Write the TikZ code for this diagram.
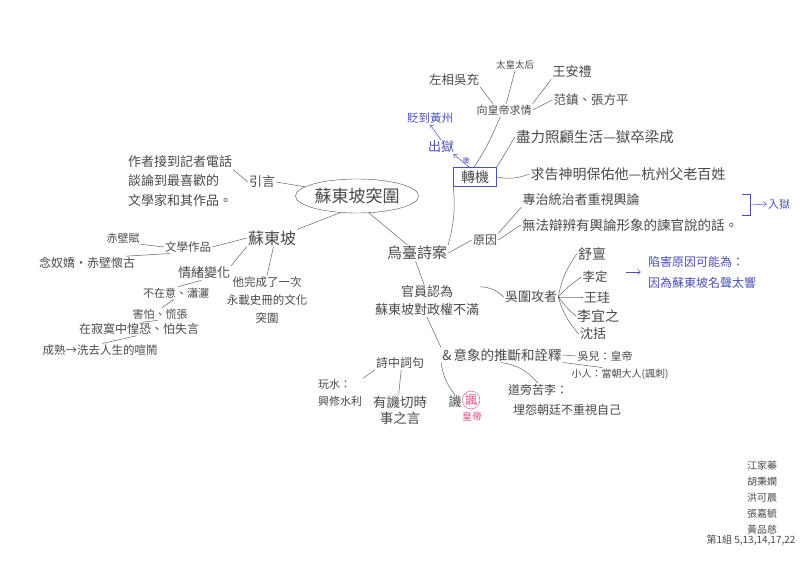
\documentclass[tikz,border=0pt]{standalone}
\usepackage{fontspec}
\setmainfont{Noto Sans CJK TC}
\usetikzlibrary{shapes.geometric,arrows.meta}
\definecolor{pencil}{HTML}{4A4A4A}
\definecolor{ink}{HTML}{4B50B4}
\definecolor{rose}{HTML}{E0457F}
\newcommand{\fsz}[2]{\fontsize{#1}{#2}\selectfont}
\begin{document}
\begin{tikzpicture}[x=1pt,y=-1pt,
	lbl/.style={text=pencil,inner sep=1pt,font=\fsz{12}{14}},
	bluelbl/.style={lbl,text=ink},
	pen/.style={draw=pencil!85,line width=0.5pt},
	bluepen/.style={draw=ink,line width=0.5pt,-{Straight Barb[length=3pt,width=5pt]}}]
	\fill[white] (0,0) rectangle (800,565);
	\useasboundingbox (0,0) rectangle (800,565);
	%centre
	\node[lbl,draw=pencil,ellipse,minimum width=110,minimum height=34,font=\fsz{17}{20}] (title) at (357,196) {蘇東坡突圍};
	\node[lbl,align=left,font=\fsz{13}{19.5}] (intro) at (180,181) {作者接到記者電話\\談論到最喜歡的\\文學家和其作品。};
	\node[lbl,font=\fsz{13}{15}] (yinyan) at (262,182) {引言};
	%su dongpo
	\node[lbl,font=\fsz{16}{18}] (su) at (272,238) {蘇東坡};
	\node[lbl,font=\fsz{11.5}{14}] (wenxue) at (188,247) {文學作品};
	\node[lbl,font=\fsz{11}{13}] (chibi) at (123,238) {赤壁賦};
	\node[lbl,font=\fsz{12}{14}] (niannu) at (87,263) {念奴嬌·赤壁懷古};
	\node[lbl,font=\fsz{13}{15}] (qingxu) at (204,273) {情緒變化};
	\node[lbl,align=center,font=\fsz{11.5}{18}] (wancheng) at (267,300) {他完成了一次\\永載史冊的文化\\突圍};
	\node[lbl,font=\fsz{11}{13}] (buzai) at (176,293) {不在意、瀟灑};
	\node[lbl,font=\fsz{11}{13}] (haipa) at (160,314) {害怕、慌張};
	\node[lbl,font=\fsz{12}{14}] (jimo) at (139,329) {在寂寞中惶恐、怕失言};
	\node[lbl,font=\fsz{11.5}{14}] (chengshu) at (100,350) {成熟→洗去人生的喧鬧};
	%wutai shi an
	\node[lbl,font=\fsz{15}{17}] (wutai) at (417,253) {烏臺詩案};
	\node[lbl,draw=ink,minimum width=43,minimum height=19,inner sep=2pt,font=\fsz{14}{16}] (zhuanji) at (475,177) {轉機};
	\node[bluelbl,font=\fsz{13}{15}] (chuyu) at (441,147) {出獄};
	\node[bluelbl,font=\fsz{11.5}{13}] (biandao) at (430,118) {貶到黃州};
	\node[lbl,font=\fsz{11}{13}] (qiuqing) at (504,110) {向皇帝求情};
	\node[lbl,font=\fsz{12.5}{15}] (wuchong) at (454,80) {左相吳充};
	\node[lbl,font=\fsz{9.5}{12}] (taihuang) at (515,65) {太皇太后};
	\node[lbl,font=\fsz{13}{15}] (wanganli) at (572,72) {王安禮};
	\node[lbl,font=\fsz{12.5}{15}] (fanzhen) at (591,100) {范鎮、張方平};
	\node[lbl,font=\fsz{14.5}{16}] (liangcheng) at (595,137) {盡力照顧生活—獄卒梁成};
	\node[lbl,font=\fsz{14}{16}] (hangzhou) at (628,174) {求告神明保佑他—杭州父老百姓};
	\node[lbl,font=\fsz{13}{15}] (zhuanzhi) at (581,200) {專治統治者重視輿論};
	\node[lbl,font=\fsz{13.5}{16}] (wufa) at (630,225) {無法辯辨有輿論形象的諫官說的話。};
	\node[lbl,font=\fsz{12}{14}] (yuanyin) at (485,240) {原因};
	\node[bluelbl,font=\fsz{11}{13}] (ruyu) at (779,204) {入獄};
	\node[lbl,align=center,font=\fsz{13}{18}] (guanyuan) at (427,301) {官員認為\\蘇東坡對政權不滿};
	\node[lbl,font=\fsz{13}{15}] (weigong) at (531,297) {吳圍攻者};
	\node[lbl,font=\fsz{14}{16}] (shudan) at (592,254) {舒亶};
	\node[lbl,font=\fsz{12.5}{15}] (liding) at (595,277) {李定};
	\node[lbl,font=\fsz{13}{15}] (wanggui) at (597,297) {王珪};
	\node[lbl,font=\fsz{14}{16}] (liyi) at (598,316) {李宜之};
	\node[lbl,font=\fsz{13}{15}] (shenkuo) at (593,334) {沈括};
	\node[bluelbl,align=left,font=\fsz{12}{21}] (xianhai) at (702,272) {陷害原因可能為：\\因為蘇東坡名聲太響};
	\node[lbl,font=\fsz{13.5}{16}] (yixiang) at (502,355) {\&\,意象的推斷和詮釋};
	\node[lbl,font=\fsz{11}{13}] (wuer) at (605,356) {吳兒：皇帝};
	\node[lbl,font=\fsz{10}{12}] (xiaoren) at (620,374) {小人：當朝大人(諷刺)};
	\node[lbl,font=\fsz{12}{14}] (shici) at (400,363) {詩中詞句};
	\node[lbl,align=left,font=\fsz{11}{17}] (wanshui) at (340,393) {玩水：\\興修水利};
	\node[lbl,align=center,font=\fsz{13.5}{16}] (jiqie) at (400,410) {有譏切時\\事之言};
	\node[lbl,font=\fsz{13}{15}] (ji) at (455,402) {譏};
	\node[lbl,text=rose,draw=rose,circle,inner sep=0.5pt,font=\fsz{12}{14}] (feng) at (471,400) {諷};
	\node[lbl,text=rose,font=\fsz{10}{12}] (huangdi) at (472,417) {皇帝};
	\node[lbl,font=\fsz{12}{14}] (daopang) at (538,390) {道旁苦李：};
	\node[lbl,font=\fsz{12}{14}] (maiyuan) at (567,410) {埋怨朝廷不重視自己};
	%signature
	\node[lbl,align=center,font=\fsz{10}{16}] (names) at (762,498) {江家蓁\\胡秉嫻\\洪可晨\\張嘉毓\\黃品慈};
	\node[lbl,font=\fsz{10}{12}] (group) at (751,540) {第1組 5,13,14,17,22};
	%lines left
	\draw[pen] (intro.12) -- (yinyan.west);
	\draw[pen] (yinyan.east) -- (title.170);
	\draw[pen] (title.225) -- (su.north east);
	\draw[pen] (su.west) -- (wenxue.east);
	\draw[pen] (wenxue.west) -- (chibi.south east);
	\draw[pen] (wenxue.-160) -- (niannu.10);
	\draw[pen] (su.south west) -- (qingxu.north east);
	\draw[pen] (su.-80) -- (wancheng.north);
	\draw[pen] (qingxu.-110) -- (buzai.70);
	\draw[pen] (buzai.-110) -- (haipa.70);
	\draw[pen] (haipa.-110) -- (jimo.70);
	\draw[pen] (jimo.-110) -- (chengshu.70);
	%lines right
	\draw[pen] (title.-55) -- (wutai.140);
	\draw[pen] (wutai.north east) to[bend right=10] (zhuanji.south west);
	\draw[bluepen] (zhuanji.120) -- node[right=1pt,text=ink,inner sep=0pt,font=\fsz{7.5}{8}] (houlbl) {後} (chuyu.-30);
	\draw[bluepen] (chuyu.north) -- (biandao.south);
	\draw[pen] (zhuanji.95) to[bend right=5] (qiuqing.240);
	\draw[pen] (qiuqing.150) -- (wuchong.south east);
	\draw[pen] (qiuqing.70) -- (taihuang.south);
	\draw[pen] (qiuqing.north east) -- (wanganli.south west);
	\draw[pen] (qiuqing.east) -- (fanzhen.west);
	\draw[pen] (zhuanji.north east) -- (liangcheng.west);
	\draw[pen] (zhuanji.east) to[bend right=15] (hangzhou.west);
	\draw[pen] (wutai.east) -- (yuanyin.west);
	\draw[pen] (yuanyin.north east) -- (zhuanzhi.south west);
	\draw[pen] (yuanyin.east) -- (wufa.west);
	\draw[draw=ink,line width=0.5pt] (742,194) -- (750,194) -- (750,215) -- (742,215);
	\coordinate (brk) at (750,205);
	\draw[bluepen] (brk) -- (ruyu.west);
	\draw[pen] (wutai.-100) -- (guanyuan.100);
	\draw[pen] (guanyuan.15) to[bend left=20] (weigong.west);
	\foreach \n/\b in {shudan/12,liding/6,wanggui/0,liyi/-6,shenkuo/-12}
	\draw[pen] (weigong.east) to[bend left=\b] (\n.west);
	\coordinate (arrtail) at (626,272);
	\draw[bluepen,shorten >=6pt] (arrtail) -- (xianhai.west);
	\draw[pen] (guanyuan.south) -- (yixiang.north west);
	\draw[pen] (yixiang.east) -- (wuer.west);
	\draw[pen] (yixiang.south east) -- (xiaoren.160);
	\draw[pen] (shici.south west) -- (wanshui.north east);
	\draw[pen] (shici.-80) -- (jiqie.95);
	\draw[pen] (yixiang.south west) to[bend right=15] (ji.north);
	\draw[pen] (yixiang.-95) to[bend left=20] (daopang.north);
\end{tikzpicture}
\end{document}
